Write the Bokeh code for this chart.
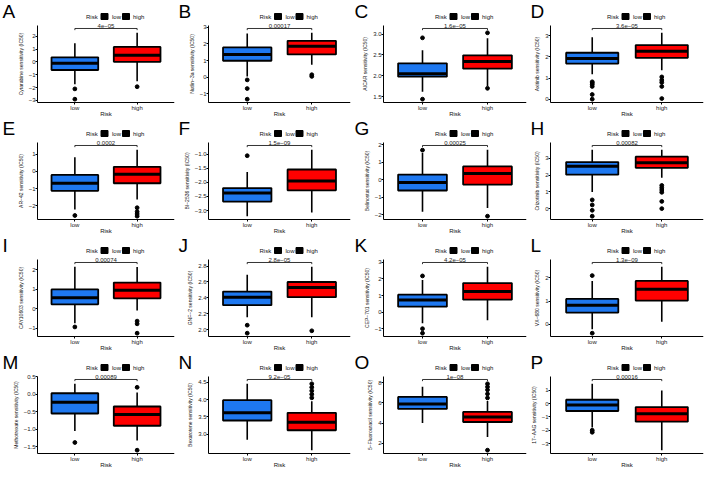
import numpy as np
from bokeh.plotting import figure
from bokeh.layouts import gridplot
from bokeh.models import Range1d, FixedTicker, ColumnDataSource
from bokeh.core.properties import value
from bokeh.embed import file_html
from bokeh.resources import INLINE

letters = list("ABCDEFGHIJKLMNOP")
drugs = ["Cytarabine", "Nutlin\u22123a", "AICAR", "Axitinib",
         "AR\u221242", "BI\u22122536", "Belinostat", "Crizotinib",
         "CAY10603", "GNF\u22122", "CEP\u2212701", "VX\u2212680",
         "Methotrexate", "Bexarotene", "5\u2212Fluorouracil", "17\u2212AAG"]
p_values = ["4e\u221205", "0.00017", "1.6e\u221205", "3.6e\u221205",
            "0.0002", "1.5e\u221209", "0.00025", "0.00082",
            "0.00074", "2.8e\u221205", "4.2e\u221205", "1.3e\u221209",
            "0.00089", "9.2e\u221205", "1e\u221208", "0.00016"]
groups = ["low", "high"]
x_title = "Risk"
colors = ["#1E78F0", "#FF0000"]

# box statistics: [lower whisker, Q1, median, Q3, upper whisker]
low_stats = [
    [-1.74, -0.63, -0.10, 0.35, 1.44],
    [0.05, 0.99, 1.37, 1.79, 2.63],
    [1.62, 1.98, 2.05, 2.30, 2.61],
    [1.18, 1.69, 1.93, 2.20, 2.93],
    [-2.21, -1.13, -0.69, -0.21, 0.82],
    [-3.20, -2.68, -2.38, -2.20, -1.63],
    [-1.84, -0.62, -0.16, 0.29, 1.52],
    [0.99, 2.02, 2.52, 2.77, 3.50],
    [-0.74, 0.23, 0.57, 1.00, 2.16],
    [2.16, 2.31, 2.41, 2.48, 2.69],
    [-0.67, 0.33, 0.73, 1.05, 1.93],
    [-0.22, 0.50, 0.82, 1.09, 1.87],
    [-1.05, -0.55, -0.23, 0.03, 0.30],
    [2.85, 3.40, 3.62, 3.98, 4.45],
    [4.0, 5.4, 5.9, 6.6, 7.6],
    [-1.8, -0.55, -0.10, 0.30, 1.5],
]
high_stats = [
    [-1.51, 0.00, 0.51, 1.16, 2.26],
    [0.75, 1.37, 1.86, 2.19, 2.67],
    [1.75, 2.17, 2.34, 2.49, 2.90],
    [1.37, 1.96, 2.27, 2.56, 3.14],
    [-1.63, -0.69, -0.17, 0.26, 1.25],
    [-3.07, -2.28, -1.95, -1.54, -0.84],
    [-1.62, -0.28, 0.36, 0.76, 1.71],
    [1.83, 2.43, 2.73, 3.09, 3.50],
    [-0.09, 0.54, 0.96, 1.35, 2.15],
    [2.16, 2.41, 2.53, 2.60, 2.79],
    [-0.49, 0.75, 1.24, 1.75, 2.73],
    [0.10, 1.02, 1.51, 1.87, 2.48],
    [-1.32, -0.90, -0.58, -0.35, 0.05],
    [2.55, 3.12, 3.35, 3.62, 3.95],
    [2.6, 4.1, 4.6, 5.1, 6.2],
    [-3.5, -1.35, -0.75, -0.25, 1.0],
]
low_outliers = [
    [-2.1, -2.9], [-0.16, -0.68, -1.32], [2.91, 1.44],
    [0.83, 0.78, 0.71, 0.61, 0.23, 0.01],
    [-2.56], [-1.05], [1.69], [0.52, 0.22, -0.10, -0.45],
    [-0.93], [2.06, 1.96], [2.18, -1.00, -1.27], [2.10, -0.39],
    [-1.38], [], [], [-2.0, -2.15],
]
high_outliers = [
    [-1.93], [0.15, 0.05], [3.03, 1.70], [1.06, 0.91, 0.80, 0.61, 0.04],
    [-2.11, -2.34, -2.47, -2.60], [], [-2.09],
    [1.38, 1.24, 1.11, 0.97, 0.43, 0.00],
    [-0.63, -0.77, -1.25], [1.99], [], [],
    [0.2, -1.60], [4.05, 4.15, 4.25, 4.35, 4.45],
    [6.5, 6.9, 7.3, 7.6, 7.9, 1.3], [],
]
y_ticks = [
    [-3, -2, -1, 0, 1, 2], [-1, 0, 1, 2, 3], [1.5, 2.0, 2.5, 3.0], [0, 1, 2, 3],
    [-2, -1, 0, 1], [-3.0, -2.5, -2.0, -1.5, -1.0], [-2, -1, 0, 1, 2], [0, 1, 2, 3],
    [-1, 0, 1, 2], [2.0, 2.2, 2.4, 2.6, 2.8], [-1, 0, 1, 2, 3], [0, 1, 2],
    [-1.5, -1.0, -0.5, 0.0, 0.5], [3.0, 3.5, 4.0, 4.5], [2, 4, 6, 8], [-3, -2, -1, 0, 1],
]

FONT = "Liberation Sans"
col_widths = [176, 176, 176, 177]
H = 117
left_px = [37, 32, 31, 22]     # canvas x where the y axis sits
TOPD = 25                      # canvas y of the top of the data area
BOTPX = 15                     # room below the x axis for its labels
RIGHT = 2
BOXW = 0.75


def fmt(v, dec):
    return f"{v:.{dec}f}".replace("-", "\u2212")


def make_panel(i):
    col = i % 4
    W = col_widths[col]
    L = left_px[col]
    lo_s, hi_s = low_stats[i], high_stats[i]
    allv = lo_s + hi_s + low_outliers[i] + high_outliers[i]
    vmin, vmax = min(allv), max(allv)
    span = vmax - vmin
    bracket = vmax + 0.065 * span
    ylo = vmin - 0.05 * span
    yhi = bracket + 0.045 * span

    fw = W - RIGHT
    xu = 2.2 / (fw - L)                      # data units per px (x)
    yu = (yhi - ylo) / (H - TOPD - BOTPX)    # data units per px (y)
    x0 = 0.4 - L * xu
    y1 = yhi + TOPD * yu
    y0 = ylo - BOTPX * yu

    def cx(px):
        return x0 + px * xu

    def cy(py):
        return y1 - py * yu

    p = figure(width=W, height=H, x_range=Range1d(x0, 2.6),
               y_range=Range1d(y0, y1), output_backend="svg",
               toolbar_location=None, min_border_left=0,
               min_border_right=RIGHT, min_border_top=0,
               min_border_bottom=0)
    p.xgrid.visible = False
    p.ygrid.visible = False
    p.outline_line_color = None

    for ax in (p.xaxis[0], p.yaxis[0]):
        ax.axis_line_color = "black"
        ax.axis_line_width = 1
        ax.major_tick_in = 0
        ax.major_tick_out = 2
        ax.major_tick_line_color = "black"
        ax.minor_tick_line_color = None
        ax.major_label_text_font = FONT
        ax.major_label_text_font_size = "6px"
        ax.major_label_text_color = "#222222"
        ax.axis_label_text_font = FONT
        ax.axis_label_text_font_style = "normal"
        ax.axis_label_text_color = "#111111"
        ax.major_label_standoff = 0
    p.xaxis.ticker = FixedTicker(ticks=[1, 2])
    p.xaxis.major_label_overrides = {1: groups[0], 2: groups[1]}
    p.xaxis.bounds = (0.4, 2.6)
    p.xaxis.fixed_location = ylo

    ticks = y_ticks[i]
    dec = 0 if all(float(t).is_integer() for t in ticks) else 1
    p.yaxis.ticker = FixedTicker(ticks=ticks)
    p.yaxis.major_label_overrides = {t: fmt(t, dec) for t in ticks}
    p.yaxis.axis_label = drugs[i] + " sensitivity (IC50)"
    p.yaxis.axis_label_text_font_size = "5px"
    p.yaxis.axis_label_standoff = 2
    p.yaxis.bounds = (ylo, yhi)
    p.yaxis.fixed_location = 0.4

    xs = [1, 2]
    stats = [lo_s, hi_s]
    src = ColumnDataSource(dict(
        x=xs, left=[x - BOXW / 2 for x in xs], right=[x + BOXW / 2 for x in xs],
        lw=[s[0] for s in stats], q1=[s[1] for s in stats],
        med=[s[2] for s in stats], q3=[s[3] for s in stats],
        uw=[s[4] for s in stats], color=colors))
    p.segment(x0="x", y0="lw", x1="x", y1="q1", source=src,
              line_color="black", line_width=1.6)
    p.segment(x0="x", y0="q3", x1="x", y1="uw", source=src,
              line_color="black", line_width=1.6)
    p.quad(left="left", right="right", bottom="q1", top="q3", source=src,
           fill_color="color", line_color="black", line_width=1.8)
    p.segment(x0="left", y0="med", x1="right", y1="med", source=src,
              line_color="black", line_width=3)

    ox = [1] * len(low_outliers[i]) + [2] * len(high_outliers[i])
    oy = low_outliers[i] + high_outliers[i]
    if oy:
        p.scatter(x=ox, y=oy, size=3.8, color="black")

    tick = 0.025 * span
    p.line(x=[1, 1, 2, 2], y=[bracket - tick, bracket, bracket, bracket - tick],
           line_color="black", line_width=0.8)
    p.text(x=[1.5], y=[bracket], text=[p_values[i]], text_align="center",
           text_baseline="bottom", text_font_size="6px", text_font=value(FONT),
           y_offset=-0.5, text_color="#222222")

    # x axis title below the tick labels
    p.text(x=[1.5], y=[cy(H - 0.5)], text=[x_title], text_align="center",
           text_baseline="bottom", text_font_size="6px", text_font=value(FONT),
           text_color="#111111")

    # panel letter
    p.text(x=[cx(2)], y=[cy(0)], text=[letters[i]], text_font=value(FONT),
           text_font_size="19px", text_baseline="top", text_align="left",
           text_color="black")

    # legend: Risk [key] low [key] high
    lc = (L + fw) / 2 + 3
    ly = cy(16)
    p.text(x=[cx(lc - 23), cx(lc + 3), cx(lc + 24)], y=[ly] * 3,
           text=[x_title, groups[0], groups[1]], text_font=value(FONT),
           text_font_size="6px", text_baseline="middle", text_align="left",
           text_color="#111111")
    p.rect(x=[cx(lc - 4.5), cx(lc + 17)], y=[ly] * 2, width=7, height=6,
           width_units="screen", height_units="screen",
           fill_color="black", line_color="black")
    return p


panels = [make_panel(i) for i in range(16)]
rows = [panels[r * 4:(r + 1) * 4] for r in range(4)]
grid = gridplot(rows, toolbar_location=None)

open("out.html", "w").write(file_html(grid, INLINE))
